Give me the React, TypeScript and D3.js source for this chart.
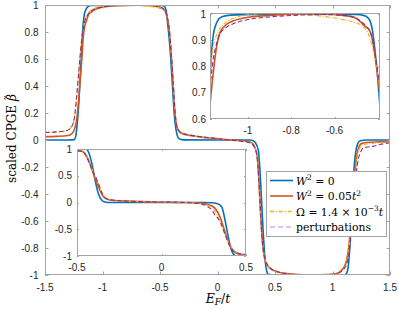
import React from "react";
import * as d3 from "d3";

type P = [number, number];

// ---------- Main panel data ----------
const mainBlue: P[] = [
  [-1.5, 0], [-1.3, 0], [-1.245, 0.003], [-1.232, 0.03], [-1.22, 0.12], [-1.21, 0.22], [-1.195, 0.45],
  [-1.181, 0.67], [-1.175, 0.775], [-1.16, 0.92], [-1.145, 0.965], [-1.129, 0.986], [-1.1, 0.996],
  [-1.0, 0.999], [-0.8, 1.0], [-0.6, 1.0], [-0.5, 0.998], [-0.47, 0.994], [-0.455, 0.98], [-0.443, 0.94],
  [-0.433, 0.86], [-0.42, 0.75], [-0.41, 0.646], [-0.393, 0.42], [-0.374, 0.17], [-0.354, 0.047],
  [-0.335, 0.01], [-0.3, 0.001], [0, 0], [0.28, 0], [0.31, -0.005], [0.33, -0.02], [0.356, -0.08],
  [0.376, -0.33], [0.395, -0.645], [0.415, -0.9], [0.428, -0.97], [0.44, -0.995], [0.5, -1], [1.1, -1],
  [1.12, -0.99], [1.135, -0.95], [1.15, -0.8], [1.165, -0.55], [1.18, -0.3], [1.2, -0.1], [1.22, -0.025],
  [1.24, -0.005], [1.3, 0], [1.5, 0],
];
const mainRed: P[] = [
  [-1.5, 0.025], [-1.4, 0.027], [-1.3, 0.033], [-1.27, 0.045], [-1.254, 0.06], [-1.24, 0.09], [-1.225, 0.15],
  [-1.21, 0.27], [-1.196, 0.42], [-1.18, 0.6], [-1.167, 0.765], [-1.152, 0.85], [-1.137, 0.89], [-1.12, 0.93],
  [-1.094, 0.95], [-1.06, 0.968], [-1.02, 0.98], [-0.95, 0.99], [-0.85, 0.995], [-0.7, 0.998], [-0.6, 0.997],
  [-0.5, 0.985], [-0.46, 0.96], [-0.44, 0.92], [-0.42, 0.82], [-0.4, 0.6], [-0.385, 0.4], [-0.37, 0.2],
  [-0.355, 0.1], [-0.33, 0.06], [-0.311, 0.05], [-0.25, 0.035], [-0.094, 0.017], [0.0, 0.01], [0.1, 0.002],
  [0.196, -0.005], [0.28, -0.015], [0.31, -0.03], [0.326, -0.06], [0.345, -0.12], [0.36, -0.3],
  [0.375, -0.55], [0.39, -0.75], [0.41, -0.88], [0.435, -0.93], [0.457, -0.95], [0.515, -0.975],
  [0.6, -0.99], [0.8, -1.0], [1.0, -0.995], [1.05, -0.985], [1.094, -0.95], [1.12, -0.9], [1.14, -0.8],
  [1.167, -0.55], [1.19, -0.3], [1.21, -0.12], [1.23, -0.05], [1.254, -0.025], [1.3, -0.018], [1.4, -0.014],
  [1.5, -0.012],
];
const mainOrange: P[] = [
  [-1.5, 0.055], [-1.4, 0.06], [-1.311, 0.07], [-1.268, 0.1], [-1.25, 0.14], [-1.239, 0.2], [-1.225, 0.32],
  [-1.21, 0.47], [-1.195, 0.62], [-1.181, 0.75], [-1.165, 0.84], [-1.152, 0.89], [-1.13, 0.93],
  [-1.109, 0.955], [-1.07, 0.975], [-1.0, 0.992], [-0.9, 1.0], [-0.75, 1.0], [-0.6, 0.99], [-0.5, 0.975],
  [-0.46, 0.955], [-0.44, 0.92], [-0.42, 0.82], [-0.4, 0.62], [-0.385, 0.42], [-0.37, 0.22], [-0.355, 0.11],
  [-0.33, 0.065], [-0.311, 0.05], [-0.25, 0.037], [-0.1, 0.019], [0, 0.01], [0.1, 0.0], [0.2, -0.007],
  [0.28, -0.018], [0.31, -0.035], [0.33, -0.065], [0.345, -0.13], [0.36, -0.3], [0.375, -0.55],
  [0.39, -0.75], [0.41, -0.875], [0.435, -0.93], [0.46, -0.955], [0.52, -0.978], [0.6, -0.99],
  [0.8, -1.0], [1.0, -0.995], [1.05, -0.985], [1.1, -0.95], [1.125, -0.89], [1.145, -0.78], [1.17, -0.53],
  [1.195, -0.28], [1.215, -0.12], [1.24, -0.055], [1.26, -0.035], [1.3, -0.03], [1.4, -0.02], [1.5, -0.015],
];
const mainPurple: P[] = [
  [-1.5, 0.055], [-1.4, 0.06], [-1.311, 0.07], [-1.268, 0.1], [-1.25, 0.14], [-1.239, 0.2], [-1.225, 0.32],
  [-1.21, 0.47], [-1.195, 0.62], [-1.181, 0.74], [-1.165, 0.83], [-1.152, 0.885], [-1.13, 0.925],
  [-1.109, 0.95], [-1.07, 0.97], [-1.0, 0.985], [-0.9, 0.995], [-0.7, 0.999], [-0.6, 0.997], [-0.5, 0.985],
  [-0.46, 0.96], [-0.44, 0.92], [-0.42, 0.82], [-0.4, 0.62], [-0.385, 0.42], [-0.37, 0.22], [-0.355, 0.11],
  [-0.33, 0.065], [-0.311, 0.05], [-0.25, 0.038], [-0.1, 0.02], [0, 0.01], [0.1, 0.0], [0.2, -0.008],
  [0.28, -0.02], [0.31, -0.04], [0.33, -0.07], [0.345, -0.13], [0.36, -0.3], [0.375, -0.55], [0.39, -0.75],
  [0.41, -0.87], [0.435, -0.925], [0.46, -0.95], [0.52, -0.975], [0.6, -0.99], [0.8, -1.0], [1.0, -0.995],
  [1.05, -0.985], [1.1, -0.955], [1.13, -0.9], [1.15, -0.8], [1.175, -0.55], [1.2, -0.3], [1.225, -0.14],
  [1.25, -0.08], [1.265, -0.06], [1.3, -0.052], [1.35, -0.047], [1.42, -0.032], [1.5, -0.022],
];

// ---------- Top inset data ----------
const topBlue: P[] = [
  [-1.175, 0.775], [-1.165, 0.88], [-1.16, 0.92], [-1.15, 0.955], [-1.14, 0.975], [-1.129, 0.986],
  [-1.1, 0.995], [-1.05, 0.998], [-0.9, 1.0], [-0.7, 1.0], [-0.55, 1.0], [-0.5, 0.999], [-0.467, 0.996],
  [-0.45, 0.99], [-0.436, 0.975], [-0.425, 0.94], [-0.413, 0.86], [-0.4, 0.75], [-0.39, 0.646],
];
const topRed: P[] = [
  [-1.175, 0.654], [-1.16, 0.776], [-1.144, 0.878], [-1.129, 0.93], [-1.098, 0.962], [-1.067, 0.975],
  [-0.99, 0.99], [-0.913, 0.995], [-0.759, 1.0], [-0.65, 1.0], [-0.55, 0.995], [-0.5, 0.985],
  [-0.482, 0.973], [-0.46, 0.955], [-0.436, 0.935], [-0.421, 0.885], [-0.405, 0.795], [-0.39, 0.694],
];
const topOrange: P[] = [
  [-1.175, 0.79], [-1.16, 0.88], [-1.145, 0.92], [-1.13, 0.945], [-1.1, 0.97], [-1.05, 0.99],
  [-0.95, 1.002], [-0.85, 1.004], [-0.75, 1.0], [-0.65, 0.992], [-0.6, 0.986], [-0.55, 0.978],
  [-0.5, 0.967], [-0.47, 0.955], [-0.45, 0.935], [-0.43, 0.89], [-0.413, 0.83], [-0.4, 0.76], [-0.39, 0.707],
];
const topPurple: P[] = [
  [-1.175, 0.72], [-1.16, 0.83], [-1.144, 0.89], [-1.129, 0.925], [-1.1, 0.95], [-1.07, 0.963],
  [-1.0, 0.98], [-0.9, 0.99], [-0.76, 0.997], [-0.65, 0.999], [-0.55, 0.995], [-0.5, 0.985],
  [-0.482, 0.975], [-0.46, 0.96], [-0.436, 0.935], [-0.421, 0.89], [-0.405, 0.8], [-0.39, 0.72],
];

// ---------- Bottom inset data ----------
const botBlue: P[] = [
  [-0.5, 1.0], [-0.46, 0.999], [-0.443, 0.99], [-0.43, 0.93], [-0.413, 0.74], [-0.393, 0.42],
  [-0.374, 0.17], [-0.354, 0.047], [-0.335, 0.01], [-0.3, 0.0], [0, 0], [0.25, 0], [0.29, -0.005],
  [0.327, -0.02], [0.356, -0.08], [0.366, -0.18], [0.376, -0.33], [0.395, -0.645], [0.415, -0.9],
  [0.435, -0.99], [0.45, -1.0], [0.5, -1.0],
];
const botRed: P[] = [
  [-0.5, 0.98], [-0.463, 0.95], [-0.433, 0.8], [-0.404, 0.55], [-0.374, 0.3], [-0.344, 0.11],
  [-0.305, 0.047], [-0.226, 0.03], [-0.049, 0.01], [0.149, 0.0], [0.247, -0.02], [0.287, -0.05],
  [0.317, -0.11], [0.346, -0.27], [0.376, -0.55], [0.405, -0.8], [0.435, -0.93], [0.465, -0.965], [0.5, -0.98],
];
const botOrange: P[] = [
  [-0.5, 0.97], [-0.463, 0.94], [-0.44, 0.84], [-0.42, 0.7], [-0.404, 0.56], [-0.385, 0.44], [-0.37, 0.32],
  [-0.35, 0.16], [-0.33, 0.08], [-0.3, 0.045], [-0.2, 0.025], [0, 0.008], [0.15, -0.002], [0.24, -0.025],
  [0.28, -0.06], [0.31, -0.14], [0.335, -0.27], [0.36, -0.45], [0.38, -0.62], [0.405, -0.8], [0.435, -0.92],
  [0.465, -0.96], [0.5, -0.975],
];
const botPurple: P[] = [
  [-0.5, 0.97], [-0.463, 0.94], [-0.44, 0.83], [-0.42, 0.68], [-0.404, 0.55], [-0.39, 0.48], [-0.374, 0.36],
  [-0.355, 0.2], [-0.335, 0.09], [-0.305, 0.05], [-0.226, 0.03], [-0.05, 0.012], [0.15, 0.0], [0.24, -0.03],
  [0.27, -0.07], [0.3, -0.15], [0.32, -0.25], [0.335, -0.3], [0.355, -0.42], [0.376, -0.6], [0.405, -0.82],
  [0.435, -0.93], [0.465, -0.96], [0.5, -0.97],
];

// ---------- Ticks ----------
const mainXTicks = [-1.5, -1, -0.5, 0, 0.5, 1, 1.5];
const mainYTicks = [-1, -0.8, -0.6, -0.4, -0.2, 0, 0.2, 0.4, 0.6, 0.8, 1];
const topXTicks = [-1, -0.8, -0.6];
const topYTicks = [0.6, 0.7, 0.8, 0.9, 1];
const botXTicks = [-0.5, 0, 0.5];
const botYTicks = [-1, -0.5, 0, 0.5, 1];

const BLUE = "#0072BD";
const RED = "#D95319";
const ORANGE = "#EDB120";
const PURPLE = "#7E2F8E";
const AX = "#a3a3a3";
const TXT = "#262626";
const SANS = "'Liberation Sans', Arial, sans-serif";
const SERIF = "'DejaVu Serif', serif";

const fmt = (v: number) => (v < 0 ? "-" : "") + String(Math.abs(v));

type Series = { data: P[]; color: string; width: number; dash?: string };

function Panel(props: {
  id: string;
  xd: [number, number];
  yd: [number, number];
  x0: number; x1: number; y0: number; y1: number;
  xticks: number[]; yticks: number[];
  series: Series[];
  tick: number;
  ylabX: number; xlabY: number;
  bg: boolean;
}) {
  const { id, xd, yd, x0, x1, y0, y1, xticks, yticks, series, tick, ylabX, xlabY, bg } = props;
  const xs = d3.scaleLinear().domain(xd).range([x0, x1]);
  const ys = d3.scaleLinear().domain(yd).range([y1, y0]);
  const line = d3.line<P>().x((d) => xs(d[0])).y((d) => ys(d[1])).curve(d3.curveMonotoneX);
  return (
    <g>
      <defs>
        <clipPath id={id}>
          <rect x={x0} y={y0} width={x1 - x0} height={y1 - y0} />
        </clipPath>
      </defs>
      {bg && <rect x={x0} y={y0} width={x1 - x0} height={y1 - y0} fill="#fff" />}
      <g clipPath={`url(#${id})`}>
        {series.map((s, i) => (
          <path key={i} d={line(s.data) || ""} fill="none" stroke={s.color} strokeWidth={s.width}
            strokeDasharray={s.dash} strokeLinejoin="round" />
        ))}
      </g>
      <rect x={x0 + 0.5} y={y0 + 0.5} width={x1 - x0 - 1} height={y1 - y0 - 1} fill="none" stroke={AX} strokeWidth={1} />
      {xticks.map((t) => {
        const x = Math.round(xs(t)) + 0.5;
        return (
          <g key={"x" + t}>
            <line x1={x} x2={x} y1={y1} y2={y1 - tick} stroke={AX} />
            <line x1={x} x2={x} y1={y0} y2={y0 + tick} stroke={AX} />
            <text x={xs(t)} y={xlabY} textAnchor="middle" fontFamily={SANS} fontSize={10} fill={TXT}>{fmt(t)}</text>
          </g>
        );
      })}
      {yticks.map((t) => {
        const y = Math.round(ys(t)) + 0.5;
        return (
          <g key={"y" + t}>
            <line x1={x0} x2={x0 + tick} y1={y} y2={y} stroke={AX} />
            <line x1={x1} x2={x1 - tick} y1={y} y2={y} stroke={AX} />
            <text x={ylabX} y={ys(t) + 3.5} textAnchor="end" fontFamily={SANS} fontSize={10} fill={TXT}>{fmt(t)}</text>
          </g>
        );
      })}
    </g>
  );
}

export default function App() {
  const mk = (b: P[], r: P[], o: P[], p: P[]): Series[] => [
    { data: b, color: BLUE, width: 1.6 },
    { data: r, color: RED, width: 1.6 },
    { data: o, color: ORANGE, width: 1.1, dash: "4,1.5,1,1.5" },
    { data: p, color: PURPLE, width: 1.1, dash: "4.5,2.5" },
  ];
  const legendRows = [
    { color: BLUE, width: 1.6, dash: undefined as string | undefined, y: 180.5 },
    { color: RED, width: 1.6, dash: undefined, y: 196 },
    { color: ORANGE, width: 1.4, dash: "4,1.8,1.2,1.8", y: 211.5 },
    { color: "#b88ad2", width: 1.2, dash: "5,3", y: 227 },
  ];
  const fs = 10.8;
  return (
    <div style={{ position: "absolute", left: 0, top: 0 }}>
      <svg width={399} height={309} viewBox="0 0 399 309" style={{ display: "block", background: "#fff" }}>
        <Panel id="cm" xd={[-1.5, 1.5]} yd={[-1, 1]} x0={45} x1={390} y0={5} y1={275}
          xticks={mainXTicks} yticks={mainYTicks} series={mk(mainBlue, mainRed, mainOrange, mainPurple)}
          tick={3.5} ylabX={38.5} xlabY={290.5} bg={true} />
        <Panel id="ct" xd={[-1.175, -0.39]} yd={[0.6, 1.005]} x0={210} x1={380} y0={13} y1={119}
          xticks={topXTicks} yticks={topYTicks} series={mk(topBlue, topRed, topOrange, topPurple)}
          tick={2} ylabX={206} xlabY={133.5} bg={true} />
        <Panel id="cb" xd={[-0.5, 0.5]} yd={[-1, 1]} x0={77} x1={246} y0={149} y1={256}
          xticks={botXTicks} yticks={botYTicks} series={mk(botBlue, botRed, botOrange, botPurple)}
          tick={2} ylabX={72} xlabY={270.5} bg={true} />
        {/* legend */}
        <rect x={266.5} y={171.5} width={120} height={65} fill="#fff" stroke={AX} />
        {legendRows.map((r, i) => (
          <line key={i} x1={270} x2={293} y1={r.y} y2={r.y} stroke={r.color} strokeWidth={r.width} strokeDasharray={r.dash} />
        ))}
        <g fontFamily={SERIF} fontSize={fs} fill="#000">
          <text x={296} y={184.5}>
            <tspan fontStyle="italic">W</tspan>
            <tspan fontSize={fs * 0.7} dy={-4.5}>2</tspan>
            <tspan dy={4.5}> = 0</tspan>
          </text>
          <text x={296} y={200}>
            <tspan fontStyle="italic">W</tspan>
            <tspan fontSize={fs * 0.7} dy={-4.5}>2</tspan>
            <tspan dy={4.5}> = 0.05</tspan>
            <tspan fontStyle="italic">t</tspan>
            <tspan fontSize={fs * 0.7} dy={-4.5}>2</tspan>
          </text>
          <text x={296} y={215.5}>
            <tspan>Ω = 1.4 × 10</tspan>
            <tspan fontSize={fs * 0.7} dy={-4.5}>−3</tspan>
            <tspan fontStyle="italic" dy={4.5}>t</tspan>
          </text>
          <text x={296} y={231}>perturbations</text>
        </g>
        {/* axis labels */}
        <text x={218} y={302.5} textAnchor="middle" fontFamily={SERIF} fontSize={12.5} fill="#000">
          <tspan fontStyle="italic">E</tspan>
          <tspan fontStyle="italic" fontSize={9} dy={2.5}>F</tspan>
          <tspan dy={-2.5}>/</tspan>
          <tspan fontStyle="italic">t</tspan>
        </text>
        <g transform="translate(16,139) rotate(-90)" fontFamily={SERIF} fontSize={12} fill="#000">
          <text x={-44} y={0}>
            <tspan>scaled CPGE </tspan>
            <tspan fontStyle="italic">β</tspan>
          </text>
          <text x={38.5} y={-3.5} fontSize={11}>˜</text>
        </g>
      </svg>
    </div>
  );
}
